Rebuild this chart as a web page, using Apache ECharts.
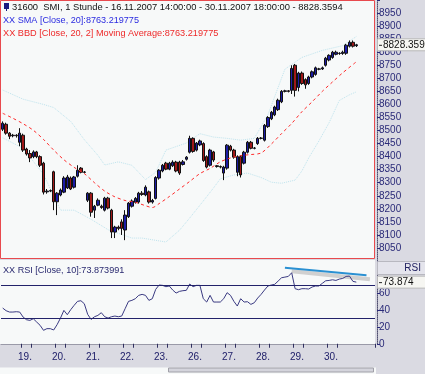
<!DOCTYPE html>
<html><head><meta charset="utf-8">
<script src="https://cdn.jsdelivr.net/npm/echarts@6/dist/echarts.min.js"></script>
<style>html,body{margin:0;padding:0;background:#dadae2;}#c{width:425px;height:374px;}</style>
</head><body><div id="c"></div>
<script>
// ---- data ----
const days = ['16.','19.','20.','21.','22.','23.','26.','27.','28.','29.','30.'];
const candlesPerDay = [2,10,10,10,10,10,10,10,10,10,13];
const opens  = [8505,8524,8490,8480,8482,8455,8482,8429,8412,8400,8418,8400,8375,8265,8268,8342,8227,8253,8264,8280,8318,8283,8325,8356,8340,8233,8260,8195,8214,8210,8195,8241,8195,8111,8130,8150,8119,8170,8210,8225,8226,8260,8253,8265,8226,8240,8318,8345,8375,8352,8365,8379,8379,8370,8390,8417,8470,8425,8445,8450,8400,8367,8418,8365,8362,8337,8356,8440,8425,8340,8400,8375,8417,8455,8432,8450,8470,8463,8515,8545,8560,8580,8610,8650,8652,8654,8750,8665,8720,8695,8680,8705,8715,8735,8736,8750,8770,8780,8792,8796,8795,8796,8823,8838,8825];
const closes = [8528,8490,8478,8482,8480,8490,8425,8410,8395,8418,8400,8367,8264,8268,8270,8227,8260,8272,8318,8322,8276,8322,8348,8340,8341,8260,8187,8210,8233,8205,8241,8203,8111,8130,8125,8125,8176,8222,8230,8240,8260,8255,8283,8226,8232,8320,8348,8367,8352,8375,8379,8345,8337,8380,8398,8470,8420,8452,8460,8385,8360,8425,8387,8362,8360,8360,8444,8425,8398,8400,8330,8417,8455,8432,8433,8470,8471,8520,8550,8570,8590,8616,8650,8652,8650,8738,8654,8720,8680,8675,8705,8725,8740,8736,8740,8777,8788,8800,8800,8795,8800,8827,8838,8823,8828.3594];
const lows   = [8498,8484,8467,8474,8473,8440,8418,8404,8379,8394,8394,8360,8255,8258,8264,8195,8176,8248,8260,8276,8272,8278,8320,8336,8336,8226,8170,8165,8210,8200,8190,8198,8088,8088,8118,8100,8080,8165,8205,8220,8220,8250,8248,8220,8220,8236,8312,8340,8348,8348,8360,8340,8330,8366,8385,8412,8415,8420,8440,8380,8355,8362,8380,8358,8355,8310,8350,8420,8392,8325,8320,8370,8412,8428,8428,8445,8466,8458,8510,8540,8555,8575,8605,8646,8646,8640,8630,8650,8675,8660,8675,8700,8710,8731,8732,8745,8765,8775,8788,8790,8790,8790,8818,8818,8820];
const highs  = [8535,8530,8494,8487,8486,8509,8488,8434,8425,8424,8422,8405,8380,8276,8274,8346,8264,8278,8325,8330,8324,8326,8367,8360,8345,8264,8264,8215,8240,8216,8246,8246,8200,8135,8136,8160,8195,8226,8236,8245,8265,8268,8290,8270,8238,8325,8352,8372,8380,8380,8386,8384,8384,8387,8402,8480,8474,8456,8465,8455,8405,8430,8422,8368,8366,8365,8448,8445,8430,8405,8405,8422,8460,8460,8437,8475,8475,8525,8555,8575,8595,8622,8655,8656,8655,8750,8755,8725,8726,8700,8710,8730,8745,8740,8745,8782,8792,8805,8806,8800,8806,8832,8845,8845,8832];
// moving average (red) and Bollinger bands, read at selected candles
const smaIdx = [0,3,6,9,12,15,18,21,24,27,30,33,36,39,42,44,46,49,52,55,58,61,64,67,70,73,76,79,82,85,88,91,94,97,100,104];
const smaVal = [8566,8547,8526,8501,8466,8425,8388,8359,8335,8300,8268,8246,8232,8225,8212,8205,8220,8247,8276,8305,8335,8355,8380,8395,8404,8408,8414,8448,8488,8527,8572,8610,8650,8686,8721,8763.219775];
const upIdx = [0,6,12,15,20,24,28,30,34,38,42,45,48,54,58,62,66,70,74,78,83,88,94,100,104];
const upVal = [8655,8620,8600,8588,8535,8465,8405,8368,8380,8367,8312,8340,8425,8452,8488,8475,8470,8463,8470,8560,8735,8780,8807,8825,8860];
const loIdx = [0,6,12,17,21,26,31,38,41,48,52,55,59,62,64,68,72,76,79,82,86,88,90,93,96,99,102,104];
const loVal = [8472,8432,8332,8195,8195,8160,8120,8088,8088,8073,8118,8165,8230,8280,8315,8330,8337,8320,8302,8298,8310,8345,8395,8460,8530,8615,8637,8648];
const rsi = [42.8,39.6,38.0,38.0,38.4,38.0,32.0,28.8,28.0,30.0,26.0,22.1,16.1,18.1,18.1,16.5,22.9,30.8,40.0,34.8,40.8,46.0,50.8,51.6,48.0,35.2,29.2,32.4,34.0,37.2,32.4,30.8,32.4,33.2,32.4,33.2,42.0,50.8,52.0,54.0,58.0,59.2,58.0,52.0,54.0,65.2,70.4,70.0,68.4,69.2,64.4,60.8,62.8,63.6,64.0,71.6,68.4,70.0,70.0,54.0,50.0,58.0,50.0,50.0,50.0,54.0,61.2,58.0,50.8,45.2,54.0,50.0,50.4,47.2,49.2,54.8,59.2,64.4,69.2,70.4,71.2,75.1,79.1,79.9,80.7,85.1,66.0,64.8,66.0,66.0,65.6,68.0,69.2,69.2,72.4,75.5,75.9,76.7,75.9,77.5,78.3,80.7,81.1,74.8,73.873991];
const rsiLevels = [70, 30];
const trendBlue = [[82.5, 91.1], [107, 82.0]];
const trendGrey = [[84.5, 86.8], [107.5, 77.2]];
const priceTicks = {min: 8000, max: 9000, step: 50};
const rsiTicks = {min: 0, max: 98, step: 20};

const FONT = '"Liberation Sans",Arial,sans-serif';
const FS = 9.3;
const NAVY = '#2a2a78';
const TOTAL_SLOTS = 110;

// categories
const cats = [];
const dayPos = [];
days.forEach((d, k) => { for (let j = 0; j < candlesPerDay[k]; j++) { cats.push(d + ' ' + j); dayPos.push(k === 0 ? -1 : j); } });
while (cats.length < TOTAL_SLOTS) { cats.push('x' + cats.length); dayPos.push(-1); }

const candleData = opens.map((o, i) => [o, closes[i], lows[i], highs[i]]);
const pairs = (idx, val) => idx.map((x, i) => [x, val[i]]);

const chart = echarts.init(document.getElementById('c'), null, {renderer: 'canvas', width: 425, height: 374});

const yAxisCommon = {
  position: 'right', offset: 2, scale: false,
  splitLine: {show: false},
  axisLine: {show: true, lineStyle: {type: 'dotted', color: '#505070', width: 1}},
  axisTick: {show: true, length: 3, lineStyle: {color: NAVY}},
};

chart.setOption({
  animation: false,
  backgroundColor: '#dadae2',
  grid: [
    {left: 1, right: 50, top: -0.35, height: 261.4},
    {left: 1, right: 50, top: 262, height: 81.75}
  ],
  xAxis: [
    {type: 'category', gridIndex: 0, data: cats, boundaryGap: true, show: false},
    {type: 'category', gridIndex: 1, data: cats, boundaryGap: true,
      axisLine: {show: true, lineStyle: {color: '#9a9aa8'}},
      axisTick: {show: true, length: 4, lineStyle: {color: '#303060'},
        interval: (i) => dayPos[i] === 4 || dayPos[i] === 7},
      axisLabel: {interval: (i) => dayPos[i] === 5, formatter: (v) => v.split(' ')[0],
        color: '#20206a', fontSize: 10, fontFamily: FONT, margin: 8, padding: [0, 3, 0, 0]}
    }
  ],
  yAxis: [
    Object.assign({}, yAxisCommon, {type: 'value', gridIndex: 0, min: priceTicks.min, max: priceTicks.max, interval: priceTicks.step,
      axisLabel: {margin: 2, color: NAVY, fontSize: 10, fontFamily: FONT,
        formatter: (v) => (v > priceTicks.min && v < priceTicks.max) ? String(v) : ''}}),
    Object.assign({}, yAxisCommon, {type: 'value', gridIndex: 1, min: rsiTicks.min, max: rsiTicks.max, interval: rsiTicks.step,
      axisLabel: {margin: 2, color: NAVY, fontSize: 10, fontFamily: FONT, showMaxLabel: false, showMinLabel: true,
        formatter: (v) => (v % 20 === 0 && v < 80) ? String(v) : ''}})
  ],
  series: [
    {type: 'line', xAxisIndex: 0, yAxisIndex: 0, data: pairs(upIdx, upVal), symbol: 'none', connectNulls: true,
      lineStyle: {color: '#bfe4ee', width: 1, type: 'dotted'}, z: 1},
    {type: 'line', xAxisIndex: 0, yAxisIndex: 0, data: pairs(loIdx, loVal), symbol: 'none', connectNulls: true,
      lineStyle: {color: '#bfe4ee', width: 1, type: 'dotted'}, z: 1},
    {type: 'candlestick', xAxisIndex: 0, yAxisIndex: 0, data: candleData, barWidth: 3,
      itemStyle: {color: '#1c1ca6', color0: '#a01818', borderColor: '#111', borderColor0: '#111', borderWidth: 1}, z: 2},
    {type: 'line', xAxisIndex: 0, yAxisIndex: 0, data: pairs(smaIdx, smaVal), symbol: 'none', smooth: 0.3,
      lineStyle: {color: '#ff2a2a', width: 1, type: [3, 3]}, z: 3},
    {type: 'line', xAxisIndex: 1, yAxisIndex: 1, data: trendGrey, symbol: 'none',
      lineStyle: {color: '#d0d0d0', width: 4}, z: 1},
    {type: 'line', xAxisIndex: 1, yAxisIndex: 1, data: rsi, symbol: 'none',
      lineStyle: {color: '#3a3a82', width: 1}, z: 2,
      markLine: {silent: true, symbol: 'none', label: {show: false},
        lineStyle: {color: '#22226a', width: 1, type: 'solid'},
        data: rsiLevels.map(v => ({yAxis: v}))}},
    {type: 'line', xAxisIndex: 1, yAxisIndex: 1, data: trendBlue, symbol: 'none',
      lineStyle: {color: '#2a90d2', width: 2}, z: 3}
  ]
});

const lastClose = closes[closes.length - 1];
const lastRsi = rsi[rsi.length - 1];
const yP = chart.convertToPixel({yAxisIndex: 0}, lastClose);
const yR = chart.convertToPixel({yAxisIndex: 1}, lastRsi);
const txt = (t, x, y, fill, size, align) => ({type: 'text', z: 100, style: {text: t, x: x, y: y, fill: fill,
  font: (size || FS) + 'px ' + FONT, textAlign: align || 'left', textVerticalAlign: 'middle'}});

chart.setOption({
  graphic: [
    {type: 'rect', z: -10, shape: {x: 0.5, y: 0.5, width: 374, height: 258}, style: {fill: '#f7f9f9', stroke: '#e84a4e', lineWidth: 1}},
    {type: 'rect', z: -10, shape: {x: 0, y: 260, width: 375, height: 84}, style: {fill: '#f7f9f9'}},
    {type: 'rect', z: -10, shape: {x: 0, y: 367.5, width: 376, height: 7}, style: {fill: '#f7f9f9'}},
    {type: 'rect', z: -9, shape: {x: 168.5, y: 368, width: 205, height: 4}, style: {fill: '#d4d4dc', stroke: '#a0a0a8', lineWidth: 1}},
    {type: 'rect', z: 100, shape: {x: 4, y: 3, width: 5, height: 6}, style: {fill: '#1a1a80'}},
    {type: 'rect', z: 100, shape: {x: 6, y: 9, width: 1, height: 2}, style: {fill: '#1a1a80'}},
    txt('31600  SMI, 1 Stunde - 16.11.2007 14:00:00 - 30.11.2007 18:00:00 - 8828.3594', 12, 7, '#111', 9.4),
    txt('XX SMA [Close, 20]:8763.219775', 3, 20, '#2a2ae0', 9.1),
    txt('XX BBD [Close, 20, 2] Moving Average:8763.219775', 3, 33, '#ee2a2a', 9.2),
    txt('XX RSI [Close, 10]:73.873991', 3, 270, '#2a2a70', 9.1),
    // price value box
    {type: 'rect', z: 90, shape: {x: 377.5, y: yP - 6, width: 48, height: 12}, style: {fill: '#f6f6f2', stroke: '#b8b8b8', lineWidth: 1}},
    {type: 'rect', z: 91, shape: {x: 379, y: yP, width: 3, height: 1}, style: {fill: '#222'}},
    txt(lastClose.toFixed(4), 383, yP, '#111', 10),
    // RSI title box + value box
    {type: 'rect', z: 90, shape: {x: 377.5, y: 261.5, width: 48, height: 13}, style: {fill: '#e4e4ec', stroke: '#b8b8c0', lineWidth: 1}},
    txt('RSI', 421, 268, '#202060', 10, 'right'),
    {type: 'rect', z: 90, shape: {x: 377.5, y: yR - 6, width: 48, height: 12}, style: {fill: '#f6f6f2', stroke: '#b8b8b8', lineWidth: 1}},
    {type: 'rect', z: 91, shape: {x: 379, y: yR, width: 3, height: 1}, style: {fill: '#222'}},
    txt(lastRsi.toFixed(3), 383, yR, '#111', 10)
  ]
});
</script></body></html>
